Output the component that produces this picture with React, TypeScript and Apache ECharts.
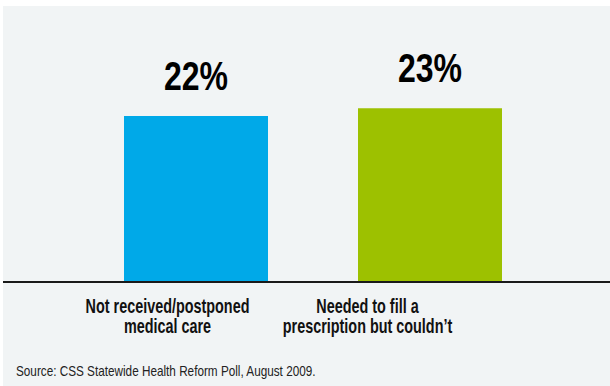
import React, { useEffect, useRef } from "react";
import * as echarts from "echarts";

const categories = ["Not received/postponed\nmedical care", "Needed to fill a\nprescription but couldn\u2019t"];
const values = [22, 23];
const barColors = ["#00a9e8", "#9dc100"];
const sourceNote = "Source: CSS Statewide Health Reform Poll, August 2009.";

const FONT = "'Liberation Sans', Arial, sans-serif";

export default function App() {
  const ref = useRef<HTMLDivElement>(null);
  useEffect(() => {
    const chart = echarts.init(ref.current!, null, { renderer: "svg" });
    chart.setOption({
      animation: false,
      backgroundColor: "#ffffff",
      graphic: [
        { type: "rect", z: -10, shape: { x: 3, y: 6, width: 607, height: 380 }, style: { fill: "#f1f4f5" }, silent: true },
        { type: "line", z: 10, shape: { x1: 3, y1: 282, x2: 610, y2: 282 }, style: { stroke: "#1a1a1a", lineWidth: 2 } },
        {
          type: "text",
          x: 16,
          y: 364,
          scaleX: 0.84,
          style: { text: sourceNote, font: `14px ${FONT}`, fill: "#222222" },
        },
      ],
      grid: [
        { left: 79, right: 63, top: 55.5, bottom: 104 },
        { left: 67.5, right: 142.5, top: 55.5, bottom: 104 },
      ],
      xAxis: [
        {
          type: "category",
          gridIndex: 0,
          data: categories,
          axisLine: { show: false },
          axisTick: { show: false },
          axisLabel: { show: false },
        },
        {
          type: "category",
          gridIndex: 1,
          data: categories,
          axisLine: { show: false },
          axisTick: { show: false },
          axisLabel: { show: false },
        },
      ],
      yAxis: [
        { type: "value", gridIndex: 0, min: 0, max: 30, show: false, splitLine: { show: false } },
        { type: "value", gridIndex: 1, min: 0, max: 30, show: false, splitLine: { show: false } },
      ],
      series: [
        {
          type: "bar",
          xAxisIndex: 0,
          yAxisIndex: 0,
          barWidth: 144,
          data: values.map((v, i) => ({ value: v, itemStyle: { color: barColors[i] } })),
        },
        {
          type: "custom",
          xAxisIndex: 0,
          yAxisIndex: 0,
          data: values.map((v, i) => [i, v]),
          encode: { x: 0, y: 1 },
          z: 5,
          renderItem: (params: any, api: any) => {
            const p = api.coord([api.value(0), api.value(1)]);
            return {
              type: "text",
              x: p[0],
              y: p[1] - 20,
              scaleX: 0.8,
              style: {
                text: `${api.value(1)}%`,
                font: `bold 40px ${FONT}`,
                fill: "#000000",
                textAlign: "center",
                textVerticalAlign: "bottom",
              },
            };
          },
        },
        {
          type: "custom",
          xAxisIndex: 1,
          yAxisIndex: 1,
          data: categories.map((_, i) => [i, 0]),
          encode: { x: 0, y: 1 },
          z: 5,
          renderItem: (params: any, api: any) => {
            const p = api.coord([api.value(0), 0]);
            return {
              type: "text",
              x: p[0],
              y: p[1] + 14,
              scaleX: 0.72,
              style: {
                text: categories[params.dataIndex],
                font: `bold 20px ${FONT}`,
                lineHeight: 20,
                fill: "#111111",
                textAlign: "center",
                textVerticalAlign: "top",
              },
            };
          },
        },
      ],
    });
    return () => chart.dispose();
  }, []);
  return <div ref={ref} style={{ position: "absolute", left: 0, top: 0, width: 610, height: 386 }} />;
}
